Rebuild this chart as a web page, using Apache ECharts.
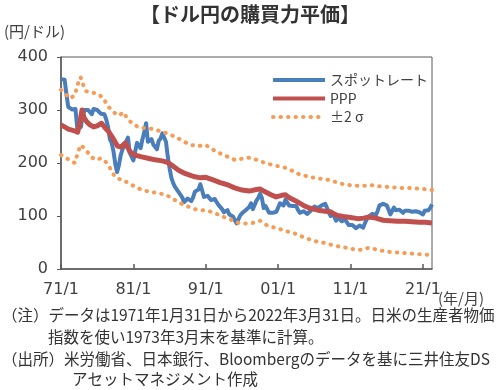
<!DOCTYPE html>
<html><head><meta charset="utf-8">
<script src="https://cdn.jsdelivr.net/npm/echarts@6/dist/echarts.min.js"></script>
<style>html,body{margin:0;padding:0;background:#fff}#c{width:500px;height:390px}</style>
</head><body><div id="c"></div>
<script>
// ---- data (years since 1971) ----
const startYear = 1971;
const endOffset = 51.25;             // 2022/3 end
const xTickLabels = ['71/1','81/1','91/1','01/1','11/1','21/1'];
const spotStep = 0.25;               // quarterly readings
const spotValues = [
 358,358,357,330, 306,303,301,301, 302,266,265,268, 290,300,298,300, 297,292,302,303,
 300,297,293,290, 292,282,268,245, 238,222,198,183, 196,215,226,232, 240,248,219,222,
 205,222,238,232, 228,245,258,275, 240,238,245,235, 232,226,242,246, 256,255,240,212,
 190,172,162,155, 156,145,148,135, 126,125,133,134, 128,135,146,148, 150,160,148,136,
 134,138,138,130, 127,132,126,121, 124,113,107,107, 111,103,100,99, 100,86,86,101,
 105,108,111,113, 117,124,113,121, 129,134,142,134, 115,119,121,106, 103,106,106,108,
 116,124,124,120, 131,132,120,122, 119,118,119,111, 106,104,109,111, 104,107,110,113,
 118,117,115,118, 120,118,123,115, 107,100,106,106, 91,98,96,90, 92,93,88,83,
 82,83,81,77, 77,82,80,78, 87,94,99,98, 104,103,102,110, 120,120,123,120,
 120,112,103,101, 116,111,112,112, 111,106,110,113, 110,111,108,108, 109,108,107,105,
 103,110,111,111, 115,122
];
const pppYears = [1971,1971.5,1972,1972.5,1973,1973.3,1973.6,1973.9,1974.2,1974.6,1975,1975.5,1976,1976.6,1977,1977.6,1978.2,1978.8,1979.3,1979.9,1980.5,1981,1981.5,1982,1983,1984,1985,1985.7,1986.5,1987.3,1988,1989,1989.5,1990.3,1991,1992,1993,1994,1995,1996,1997,1998,1998.5,1999,2000,2000.7,2001.5,2002,2002.5,2003.5,2004.5,2005.3,2006.5,2007.5,2008.2,2008.7,2009.2,2010,2011,2012,2012.8,2013.6,2014.5,2015.5,2016.4,2017.5,2018.5,2019.5,2020.5,2021.3,2022.25];
const pppValues = [272,268,264,262,260,258,275,300,285,277,272,268,270,275,268,259,246,232,230,238,222,216,214,212,209,206,204,201,194,186,181,176,174,172,173,168,163,159,153,149,147,150,151,147,140,136,139,140,135,128,120,115,111,109,108,104,101,99,97,95,96,98,96,92,91,90,90,89,88,88,87];
const upperYears = [1971,1971.6,1972.3,1972.9,1973.3,1973.7,1974,1974.4,1975,1975.7,1976.3,1976.9,1977.4,1978,1978.6,1979.1,1979.6,1980.3,1980.9,1981.6,1982.3,1983,1984,1985,1986,1987,1988,1989,1990,1991,1992,1993,1994,1995,1996,1997,1998,1999,2000,2001,2002,2003,2004,2005,2006,2007,2008,2009,2010,2011,2012,2013,2014,2015,2016,2017,2018,2019,2020,2021,2022.25];
const upperValues = [338,330,322,328,348,362,350,336,333,332,328,322,308,300,292,290,296,281,275,268,266,266,263,259,254,248,240,234,232,234,225,218,212,206,208,210,206,201,197,194,191,185,178,175,172,170,168,164,160,158,157,157,158,156,155,154,153,153,152,151,149];
const lowerYears = [1971,1971.6,1972.3,1972.9,1973.4,1973.7,1974.2,1974.7,1975.3,1975.9,1976.5,1977.2,1977.8,1978.4,1979,1979.6,1980.3,1981,1981.7,1982.5,1983.5,1984.5,1985.5,1986.5,1987.5,1988.5,1989.5,1990.5,1991.5,1992.5,1993.5,1994.5,1995.5,1996.5,1997.5,1998.5,1999.5,2000.5,2001.5,2002.5,2003.5,2004.5,2005.5,2006.5,2007.5,2008.5,2009.5,2010.5,2011.5,2012.5,2013.5,2014.5,2015.5,2016.5,2017.5,2018.5,2019.5,2020.5,2021.5,2022.25];
const lowerValues = [215,210,205,200,222,234,228,220,210,206,209,202,190,175,170,168,162,157,152,148,145,143,140,132,124,118,113,111,109,104,98,93,87,86,87,91,82,78,74,70,66,60,55,51,49,45,42,40,37,36,40,37,34,32,31,30,29,28,27,26];

const seriesNames = ['スポットレート','PPP','±2 σ'];

// ---- build ----
const pair = (xs, ys) => ys.map((v, i) => [xs[i] - startYear, v]);
const spotData = spotValues.map((v, i) => [i * spotStep, v]);
const FONT = '"Noto Sans CJK JP", "Noto Sans", sans-serif';
const NUMFONT = '"DejaVu Sans", sans-serif';
const axisColor = '#595959';
const txt = '#404040';
const blue = '#4a7ebb', red = '#c0504d', orange = '#f59d56';

const chart = echarts.init(document.getElementById('c'), null, {renderer: 'canvas'});
const dotStyle = {color: orange, width: 4, type: [0.5, 7], cap: 'round'};
chart.setOption({
  animation: false,
  textStyle: {fontFamily: FONT},
  grid: {left: 61, right: 68, top: 57, bottom: 121, show: true, borderColor: axisColor, borderWidth: 1},
  xAxis: {
    type: 'value', min: 0, max: endOffset, interval: 10,
    axisLine: {show: true, lineStyle: {color: axisColor, width: 1.5}},
    axisTick: {show: true, inside: true, length: 5, lineStyle: {color: axisColor, width: 1.5}},
    splitLine: {show: false},
    axisLabel: {
      showMaxLabel: false, margin: 13, fontSize: 16, color: txt, fontFamily: NUMFONT,
      formatter: v => xTickLabels[Math.round(v / 10)] || ''
    }
  },
  yAxis: {
    type: 'value', min: 0, max: 400, interval: 100,
    axisLine: {show: true, lineStyle: {color: axisColor, width: 1.5}},
    axisTick: {show: true, inside: false, length: 4, lineStyle: {color: axisColor, width: 1}},
    splitLine: {show: false},
    axisLabel: {margin: 13, fontSize: 16, color: txt, fontFamily: NUMFONT}
  },
  legend: {
    orient: 'vertical', left: 271, top: 73, padding: 0,
    itemWidth: 52, itemHeight: 14, itemGap: 4.5,
    data: seriesNames,
    itemStyle: {opacity: 0},
    lineStyle: {width: 4},
    textStyle: {fontSize: 14, color: txt, fontFamily: FONT, padding: [0,0,0,0]}
  },
  series: [
    {name: seriesNames[0], type: 'line', data: spotData, showSymbol: false, symbol: 'none',
     lineStyle: {color: blue, width: 4, join: 'round'}, itemStyle: {color: blue}},
    {name: seriesNames[1], type: 'line', data: pair(pppYears, pppValues), showSymbol: false, symbol: 'none',
     lineStyle: {color: red, width: 5, join: 'round'}, itemStyle: {color: red}},
    {name: seriesNames[2], type: 'line', data: pair(upperYears, upperValues), showSymbol: false, symbol: 'none',
     lineStyle: dotStyle, itemStyle: {color: orange}},
    {name: seriesNames[2], type: 'line', data: pair(lowerYears, lowerValues), showSymbol: false, symbol: 'none',
     lineStyle: dotStyle, itemStyle: {color: orange}}
  ],
  graphic: [
    {type: 'text', left: 'center', top: 4, style: {text: '【ドル円の購買力平価】', font: 'bold 20px ' + FONT, fill: '#333'}},
    {type: 'text', x: 4, y: 24, style: {text: '(円/ドル)', font: '15px ' + FONT, fill: txt}},
    {type: 'text', x: 438, y: 291, style: {text: '(年/月)', font: '15px ' + FONT, fill: txt}},
    {type: 'text', x: 2, y: 307, style: {text: '（注）データは1971年1月31日から2022年3月31日。日米の生産者物価', font: '15.5px ' + FONT, fill: '#333'}},
    {type: 'text', x: 48, y: 329, style: {text: '指数を使い1973年3月末を基準に計算。', font: '15.5px ' + FONT, fill: '#333'}},
    {type: 'text', x: 2, y: 351, style: {text: '（出所）米労働省、日本銀行、Bloombergのデータを基に三井住友DS', font: '15.5px ' + FONT, fill: '#333'}},
    {type: 'text', x: 72, y: 371, style: {text: 'アセットマネジメント作成', font: '15.5px ' + FONT, fill: '#333'}}
  ]
});
</script></body></html>
